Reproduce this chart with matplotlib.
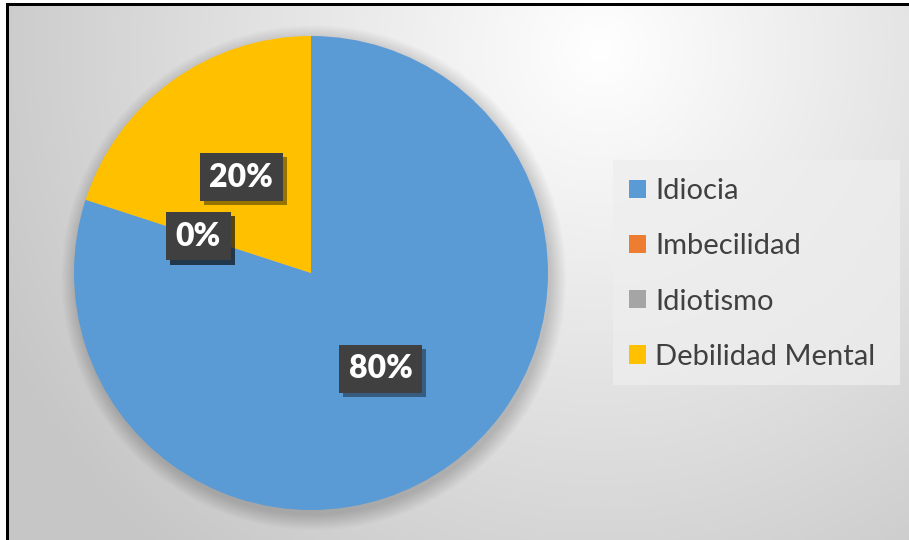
import numpy as np
import matplotlib.pyplot as plt
from matplotlib import patheffects as pe
from matplotlib.patches import Rectangle, Circle

categories = ["Idiocia", "Imbecilidad", "Idiotismo", "Debilidad Mental"]
values = [80, 0, 0, 20]
colors = ["#5B9BD5", "#ED7D31", "#A5A5A5", "#FFC000"]

W, H = 909, 540
fig = plt.figure(figsize=(W / 100, H / 100), dpi=100)

# background with radial gradient and black frame (left/top)
bg = fig.add_axes([0, 0, 1, 1], zorder=0)
yy, xx = np.mgrid[0:H, 0:W]
d = np.hypot(xx - 600, yy - 50)
v = np.clip(255 - 0.085 * d, 198, 255) / 255
img = np.dstack([v, v, v])
img[:, :6] = 1
img[:3, :] = 1
img[3:, 6:9] = 0
img[3:6, 6:] = 0
bg.imshow(img, aspect="auto", interpolation="bilinear")
bg.axis("off")

# pie
cx, cy, r = 311, 273, 237
ax = fig.add_axes([(cx - r) / W, (H - cy - r) / H, 2 * r / W, 2 * r / H], zorder=2)
ax.set_facecolor("none")

for i in range(14):
    ax.add_patch(Circle((0.012, -0.02), 1 + 0.005 * i, color="black",
                        alpha=0.012, zorder=0, clip_on=False, lw=0))

wedges, texts, autotexts = ax.pie(
    values, colors=colors, startangle=90, counterclock=False,
    autopct="%1.0f%%", pctdistance=0.5, radius=1,
    wedgeprops=dict(linewidth=0, zorder=2),
    textprops=dict(family="Lato", fontsize=23, fontweight="heavy", color="white"),
)
ax.set_xlim(-1, 1)
ax.set_ylim(-1, 1)
ax.set_aspect("equal")
for t in autotexts:
    t.set_zorder(5)
    t.set_bbox(dict(boxstyle="square,pad=0.3", fc="#404040", ec="none"))
    t.get_bbox_patch().set_path_effects(
        [pe.withSimplePatchShadow(offset=(3, -3), shadow_rgbFace="black", alpha=0.4)])

# legend background
fig.patches.append(Rectangle((613 / W, 1 - 385 / H), 287 / W, 225 / H,
                             transform=fig.transFigure, fc="#eeeeee", ec="none",
                             alpha=0.75, zorder=1))
leg = fig.legend(wedges, categories, loc="upper left",
                 bbox_to_anchor=(603 / W, 1 - 152 / H), frameon=False,
                 prop=dict(family="Lato", size=21), handlelength=0.59,
                 handleheight=0.59, handletextpad=0.3, labelspacing=1.0)
for txt in leg.get_texts():
    txt.set_color("#404040")
leg.set_zorder(3)

fig.savefig("out.png", dpi=100)
